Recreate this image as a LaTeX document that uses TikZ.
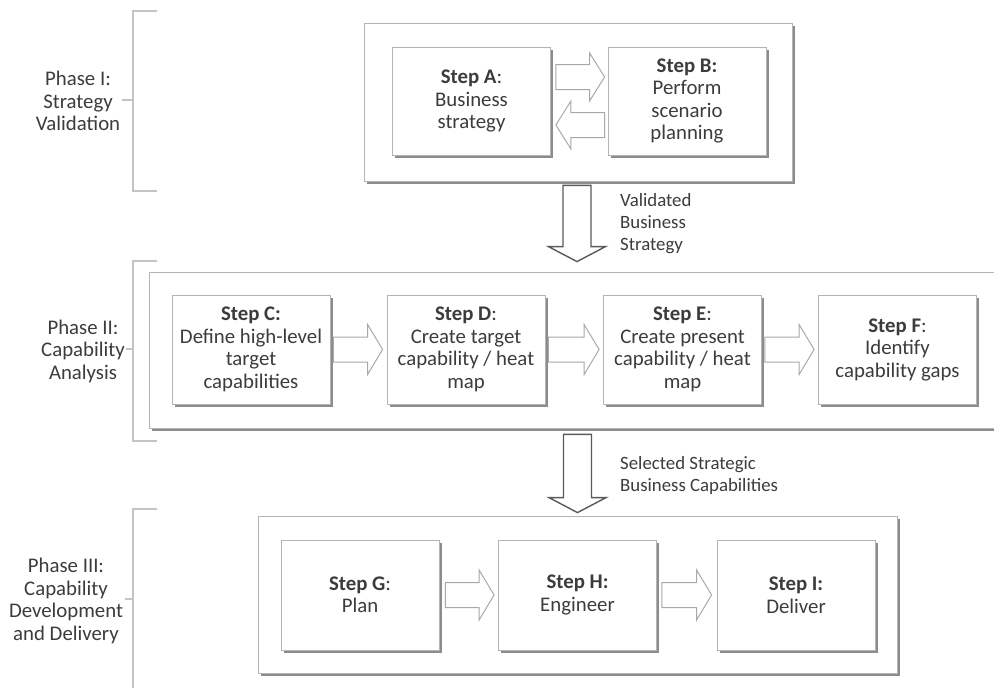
\documentclass[tikz,border=0pt]{standalone}
\usepackage{fontspec}
\setmainfont{Carlito}
\usetikzlibrary{calc,shadows}

\definecolor{txt}{HTML}{3C3C3C}
\definecolor{boxline}{HTML}{B4B4B4}
\definecolor{boxshadow}{HTML}{8C8C8C}
\definecolor{bracket}{HTML}{C4C4C4}
\definecolor{flowline}{HTML}{A8A8A8}
\definecolor{handoff}{HTML}{5A5A5A}

\tikzset{
  shadowed/.style={drop shadow={shadow xshift=2.5pt,shadow yshift=-2.5pt,fill=boxshadow,opacity=1}},
  stepbox/.style={shadowed, draw=boxline, fill=white, line width=0.8pt,
    minimum width=158pt, minimum height=109pt, inner sep=0pt,
    align=center, text=txt, font=\fontsize{20.8}{22.5}\selectfont},
  phasebox/.style={shadowed, draw=boxline, fill=white, line width=0.8pt, inner sep=0pt},
  phaselabel/.style={align=center, text=txt, font=\fontsize{20.8}{22.5}\selectfont, inner sep=0pt},
  handofflabel/.style={align=left, anchor=west, text=txt, font=\fontsize{18.8}{22}\selectfont, inner sep=0pt},
  bracketline/.style={draw=bracket, line width=1.2pt},
  flowarrow/.style={draw=flowline, fill=white, line width=1pt, line join=miter},
  handoffarrow/.style={draw=handoff, fill=white, line width=1.4pt, line join=miter},
}

% Block arrow: #1 style, #2 tail, #3 tip, #4 body half width, #5 head half width, #6 head length
\newcommand{\blockarrow}[6]{%
  \path ($(#3)!#6!(#2)$) coordinate (bahead);
  \draw[#1] ($(#2)!#4!90:(#3)$) -- ($(bahead)!#4!90:(#3)$) -- ($(bahead)!#5!90:(#3)$)
    -- (#3) -- ($(bahead)!#5!-90:(#3)$) -- ($(bahead)!#4!-90:(#3)$) -- ($(#2)!#4!-90:(#3)$) -- cycle;
}

\begin{document}
\begin{tikzpicture}[x=1pt,y=-1pt]
\useasboundingbox (0,0) rectangle (994,688);
\fill[white] (0,0) rectangle (994,688);

% phase containers
\node[phasebox, minimum width=428pt, minimum height=158pt] (P1) at (578,102) {};
\node[phasebox, minimum width=861pt, minimum height=156pt] (P2) at (579.5,350) {};
\node[phasebox, minimum width=639pt, minimum height=157pt] (P3) at (577.5,594.5) {};

% steps
\node[stepbox, minimum height=108pt] (A) at (471.5,101) {\textbf{Step A}:\\Business\\strategy};
\node[stepbox, minimum height=108pt] (B) at (687,101) {\textbf{Step B:}\\Perform\\scenario\\planning};
\node[stepbox] (C) at (251,349.5) {\textbf{Step C:}\\Define high-level\\target\\capabilities};
\node[stepbox] (D) at (466,349.5) {\textbf{Step D}:\\Create target\\capability / heat\\map};
\node[stepbox] (E) at (682.5,349.5) {\textbf{Step E}:\\Create present\\capability / heat\\map};
\node[stepbox] (F) at (897.5,349.5) {\textbf{Step F}:\\Identify\\capability gaps};
\node[stepbox, minimum height=110pt] (G) at (360,595) {\textbf{Step G}:\\Plan};
\node[stepbox, minimum height=110pt] (H) at (577.5,595) {\textbf{Step H:}\\Engineer};
\node[stepbox, minimum height=110pt] (I) at (796,595) {\textbf{Step I:}\\Deliver};

% phase brackets and labels
\node[phaselabel] (L1) at (78,101) {Phase I:\\Strategy\\Validation};
\node[phaselabel] (L2) at (83,351) {Phase II:\\Capability\\Analysis};
\node[phaselabel] (L3) at (66,601) {Phase III:\\Capability\\Development\\and Delivery};

\draw[bracketline] (157,11) -- (133,11) -- (133,191) -- (157,191);
\draw[bracketline] (157,261) -- (133,261) -- (133,441) -- (157,441);
\draw[bracketline] (157,509) -- (133,509) -- (133,700);
\coordinate (m1) at (133,100);
\coordinate (m2) at (133,349);
\coordinate (m3) at (133,599);
\draw[bracketline] (m1) -- ($(m1 -| L1.east)+(2,0)$);
\draw[bracketline] (m2) -- ($(m2 -| L2.east)+(1,0)$);
\draw[bracketline] (m3) -- ($(m3 -| L3.east)+(2,0)$);

% flow within phases
\coordinate (abT) at ($(A.east)+(5,-24)$);
\coordinate (abH) at ($(B.west)+(-3,-24)$);
\blockarrow{flowarrow}{abT}{abH}{12.5pt}{24pt}{15pt}
\coordinate (baT) at ($(B.west)+(-3,24)$);
\coordinate (baH) at ($(A.east)+(5,24)$);
\blockarrow{flowarrow}{baT}{baH}{12.5pt}{24pt}{15pt}

\coordinate (cdT) at ($(C.east)+(3,0)$);
\coordinate (cdH) at ($(D.west)+(-4,0)$);
\blockarrow{flowarrow}{cdT}{cdH}{12.5pt}{25pt}{15pt}
\coordinate (deT) at ($(D.east)+(3,0)$);
\coordinate (deH) at ($(E.west)+(-4,0)$);
\blockarrow{flowarrow}{deT}{deH}{12.5pt}{25pt}{15pt}
\coordinate (efT) at ($(E.east)+(3,0)$);
\coordinate (efH) at ($(F.west)+(-4,0)$);
\blockarrow{flowarrow}{efT}{efH}{12.5pt}{25pt}{15pt}

\coordinate (ghT) at ($(G.east)+(6,0)$);
\coordinate (ghH) at ($(H.west)+(-4,0)$);
\blockarrow{flowarrow}{ghT}{ghH}{12.5pt}{25pt}{15pt}
\coordinate (hiT) at ($(H.east)+(5,0)$);
\coordinate (hiH) at ($(I.west)+(-5,0)$);
\blockarrow{flowarrow}{hiT}{hiH}{12.5pt}{25pt}{15pt}

% hand-offs between phases
\coordinate (v1T) at ($(P1.south)+(-1,4)$);
\coordinate (v1H) at ($(P1.south |- P2.north)+(-1,-10)$);
\blockarrow{handoffarrow}{v1T}{v1H}{14pt}{28.5pt}{15pt}
\node[handofflabel] (V1lab) at (620,224) {Validated\\Business\\Strategy};

\coordinate (v2T) at ($(P2.south -| P3.north)+(0,6)$);
\coordinate (v2H) at ($(P3.north)+(0,-3)$);
\blockarrow{handoffarrow}{v2T}{v2H}{14pt}{28.5pt}{15pt}
\node[handofflabel] (V2lab) at (620,475.5) {Selected Strategic\\Business Capabilities};
\end{tikzpicture}
\end{document}
